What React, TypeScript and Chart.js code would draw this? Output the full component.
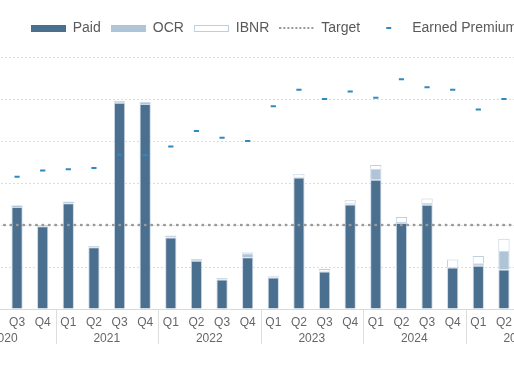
import React, { useEffect, useRef } from "react";
import { Chart, registerables } from "chart.js";

Chart.register(...registerables);

// ---- data ----
const quarterLabels = [
  "Q1", "Q2", "Q3", "Q4",
  "Q1", "Q2", "Q3", "Q4",
  "Q1", "Q2", "Q3", "Q4",
  "Q1", "Q2", "Q3", "Q4",
  "Q1", "Q2", "Q3", "Q4",
  "Q1", "Q2", "Q3", "Q4",
];
const yearLabels = ["2020", "2021", "2022", "2023", "2024", "2025"];

const paid = [
  null, null, 2.43, 1.97,
  2.52, 1.47, 4.91, 4.88,
  1.70, 1.15, 0.70, 1.23,
  0.75, 3.13, 0.89, 2.49,
  3.08, 2.05, 2.48, 0.99,
  1.03, 0.94, null, null,
];
const ocr = [
  null, null, 0.04, 0.03,
  0.04, 0.03, 0.05, 0.05,
  0.05, 0.04, 0.04, 0.10,
  0.03, 0.02, 0.02, 0.03,
  0.26, 0.02, 0.05, 0.01,
  0.06, 0.44, null, null,
];
const ibnr = [
  null, null, 0, 0,
  0, 0, 0, 0,
  0, 0, 0, 0.02,
  0.01, 0.06, 0.04, 0.07,
  0.09, 0.12, 0.10, 0.18,
  0.17, 0.29, null, null,
];
const earnedPremium = [
  null, null, 3.15, 3.30,
  3.33, 3.36, 3.67, 3.66,
  3.87, 4.24, 4.08, 4.00,
  4.83, 5.22, 5.00, 5.18,
  5.03, 5.47, 5.28, 5.22,
  4.75, 5.00, null, null,
];
const targetValue = 2;
const target = quarterLabels.map(() => targetValue);

const FONT = "'Liberation Sans', Arial, sans-serif";
const PAID_COLOR = "#4a6f8f";
const OCR_COLOR = "#b0c4d8";
const IBNR_BORDER = "#bcd0e2";
const EDGE = "rgba(196,212,228,0.9)";
const EP_COLOR = "#2f8ac0";
const TARGET_COLOR = "#999999";

function makeImg(w: number, h: number, draw: (g: CanvasRenderingContext2D) => void) {
  const c = document.createElement("canvas");
  c.width = w;
  c.height = h;
  const g = c.getContext("2d")!;
  draw(g);
  return c;
}

export default function App() {
  const ref = useRef<HTMLCanvasElement | null>(null);

  useEffect(() => {
    if (!ref.current) return;

    const legendImgs = [
      makeImg(35, 8, (g) => { g.fillStyle = PAID_COLOR; g.fillRect(0, 1, 35, 7); }),
      makeImg(35, 8, (g) => { g.fillStyle = OCR_COLOR; g.fillRect(0, 1, 35, 7); }),
      makeImg(35, 8, (g) => {
        g.fillStyle = "#fff"; g.fillRect(0, 1, 35, 7);
        g.strokeStyle = IBNR_BORDER; g.lineWidth = 1; g.strokeRect(0.5, 1.5, 34, 6);
      }),
      makeImg(35, 2, (g) => {
        g.fillStyle = TARGET_COLOR;
        for (let i = 0; i < 9; i++) g.fillRect(i * 4, 0, 2, 2);
      }),
      makeImg(35, 2, (g) => { g.fillStyle = EP_COLOR; g.fillRect(16, 0, 5, 2); }),
    ];

    const legendMargin = {
      id: "legendMargin",
      beforeInit(chart: any) {
        const legend = chart.legend;
        if (!legend) return;
        const orig = legend.fit;
        legend.fit = function () {
          orig.call(this);
          this.height += 12;
        };
      },
    };

    const yearAxis = {
      id: "yearAxis",
      afterDraw(chart: any) {
        const xs = chart.scales.x;
        const ctx = chart.ctx;
        const bottom = chart.chartArea.bottom;
        const half = (xs.getPixelForValue(1) - xs.getPixelForValue(0)) / 2;
        ctx.save();
        ctx.strokeStyle = "#dddddd";
        ctx.lineWidth = 1;
        for (let y = 0; y <= yearLabels.length; y++) {
          const x = Math.round(xs.getPixelForValue(y * 4) - half) + 0.5;
          ctx.beginPath();
          ctx.moveTo(x, bottom);
          ctx.lineTo(x, bottom + 35);
          ctx.stroke();
        }
        ctx.fillStyle = "#666";
        ctx.font = `12px ${FONT}`;
        ctx.textAlign = "center";
        ctx.textBaseline = "middle";
        yearLabels.forEach((yl, i) => {
          const cx = (xs.getPixelForValue(i * 4) + xs.getPixelForValue(i * 4 + 3)) / 2;
          ctx.fillText(yl, cx, bottom + 30);
        });
        ctx.restore();
      },
    };

    const barCommon = {
      type: "bar" as const,
      stack: "claims",
      borderWidth: 1,
      borderSkipped: "start" as const,
      barPercentage: 0.44,
      categoryPercentage: 1,
      order: 3,
    };

    const chart = new Chart(ref.current, {
      type: "bar",
      data: {
        labels: quarterLabels,
        datasets: [
          { ...barCommon, label: "Paid", data: paid, backgroundColor: PAID_COLOR, borderColor: EDGE },
          { ...barCommon, label: "OCR", data: ocr, backgroundColor: OCR_COLOR, borderColor: EDGE },
          { ...barCommon, label: "IBNR", data: ibnr, backgroundColor: "#ffffff", borderColor: IBNR_BORDER },
          {
            type: "line",
            label: "Target",
            data: target,
            stack: "target",
            borderColor: TARGET_COLOR,
            borderWidth: 2.5,
            borderCapStyle: "round",
            borderDash: [0.5, 5.9],
            pointRadius: 0,
            fill: false,
            order: 1,
          } as any,
          {
            type: "line",
            label: "Earned Premium",
            data: earnedPremium,
            stack: "ep",
            showLine: false,
            pointStyle: "line",
            pointRadius: 2.6,
            pointHoverRadius: 2.6,
            pointBorderWidth: 2,
            pointBorderColor: EP_COLOR,
            pointBackgroundColor: EP_COLOR,
            borderColor: EP_COLOR,
            order: 0,
          } as any,
        ],
      },
      options: {
        responsive: false,
        animation: false,
        layout: { padding: { top: 11 } },
        plugins: {
          tooltip: { enabled: false },
          legend: {
            display: true,
            position: "top",
            align: "center",
            labels: {
              usePointStyle: true,
              pointStyleWidth: 35,
              boxWidth: 35,
              boxHeight: 14,
              padding: 10,
              color: "#595959",
              font: { family: FONT, size: 14 },
              generateLabels: (ch: any) =>
                ch.data.datasets.map((ds: any, i: number) => ({
                  text: ds.label,
                  pointStyle: legendImgs[i],
                  fillStyle: "transparent",
                  strokeStyle: "transparent",
                  lineWidth: 0,
                  hidden: !ch.isDatasetVisible(i),
                  datasetIndex: i,
                  fontColor: "#595959",
                })),
            },
          },
        },
        scales: {
          x: {
            stacked: true,
            offset: true,
            grid: { display: false, drawTicks: false },
            border: { display: true, color: "#d9d9d9", width: 1 },
            ticks: {
              autoSkip: false,
              maxRotation: 0,
              padding: 6,
              color: "#666",
              font: { family: FONT, size: 12 },
            },
            afterFit: (s: any) => { s.height = 77; },
          },
          y: {
            stacked: true,
            min: 0,
            max: 6,
            ticks: { display: false, stepSize: 1 },
            grid: { color: "#dedede", lineWidth: 1, drawTicks: false },
            border: { display: false, dash: [2, 2] },
            afterFit: (s: any) => { s.width = 45; },
          },
          y2: {
            position: "right",
            display: true,
            min: 0,
            max: 6,
            ticks: { display: false },
            grid: { display: false, drawTicks: false },
            border: { display: false },
            afterFit: (s: any) => { s.width = 72; },
          },
        },
      } as any,
      plugins: [legendMargin, yearAxis],
    });

    return () => chart.destroy();
  }, []);

  return (
    <div
      style={{
        position: "fixed",
        left: 0,
        top: 0,
        width: 514,
        height: 386,
        overflow: "hidden",
        background: "#fff",
      }}
    >
      <div style={{ position: "absolute", left: -92, top: 0, width: 732, height: 386 }}>
        <canvas ref={ref} width={732} height={386} style={{ width: 732, height: 386, display: "block" }} />
      </div>
    </div>
  );
}
